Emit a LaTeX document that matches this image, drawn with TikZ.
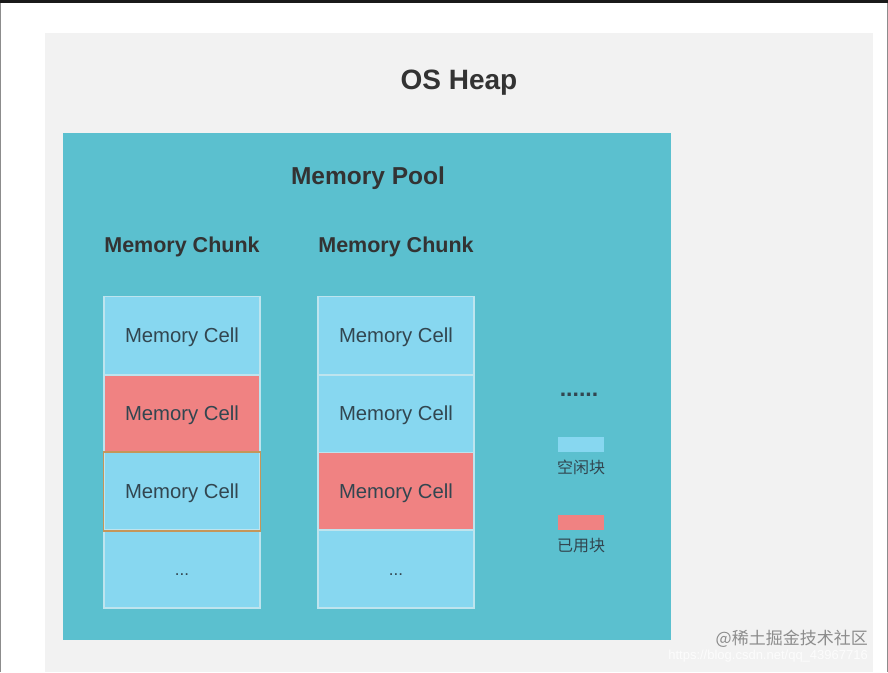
\documentclass[tikz,border=0pt]{standalone}
\usepackage{fontspec}
\setmainfont{Liberation Sans}
\newfontfamily\cjk{Noto Sans CJK SC}
\definecolor{panel}{RGB}{242,242,242}
\definecolor{teal}{RGB}{91,192,207}
\definecolor{freec}{RGB}{135,215,240}
\definecolor{usedc}{RGB}{240,130,130}
\definecolor{txt}{RGB}{51,51,51}
\definecolor{celltxt}{RGB}{50,70,80}
\definecolor{cellline}{RGB}{190,228,238}
\definecolor{selline}{RGB}{196,150,90}
\tikzset{
  cell/.style={draw=cellline, line width=1.2pt, minimum width=156pt, minimum height=78pt, inner sep=0pt, text height=13pt, text depth=0pt, font=\fontsize{20.3}{22}\selectfont, text=celltxt},
  freecell/.style={cell, fill=freec},
  usedcell/.style={cell, fill=usedc},
  title/.style={font=\bfseries, text=txt, inner sep=0pt},
  lab/.style={inner sep=0pt, text=celltxt}
}
\begin{document}
\begin{tikzpicture}[x=1pt,y=-1pt]
\useasboundingbox (0,0) rectangle (888,672);
\fill[white] (0,0) rectangle (888,672);
\fill[black!90] (0,0) rectangle (888,3);
\draw[black!45, line width=0.8pt] (0.5,3) -- (0.5,672) (887.5,3) -- (887.5,672);
\fill[panel] (45,33) rectangle (873,672);
\fill[teal] (63,133) rectangle (671,640);
\node[title, font=\fontsize{28}{30}\bfseries\selectfont] (heap) at (459,83) {OS Heap};
\node[title, font=\fontsize{24.5}{26}\bfseries\selectfont] (pool) at (368,178.5) {Memory Pool};
\node[title, font=\fontsize{21.5}{24}\bfseries\selectfont] (ch1) at (182,247) {Memory Chunk};
\node[title, font=\fontsize{21.5}{24}\bfseries\selectfont] (ch2) at (396,247) {Memory Chunk};
% chunk 1
\node[freecell] (a1) at (182,335.5) {Memory Cell};
\node[usedcell] (a2) at (182,414) {Memory Cell};
\node[freecell] (a3) at (182,491.5) {Memory Cell};
\node[freecell, font=\fontsize{17}{18}\selectfont] (a4) at (182,569) {...};
\draw[selline, line width=1.3pt] (a3.north west) rectangle (a3.south east);
% chunk 2
\node[freecell] (b1) at (396,335.5) {Memory Cell};
\node[freecell] (b2) at (396,414) {Memory Cell};
\node[usedcell] (b3) at (396,491.5) {Memory Cell};
\node[freecell, font=\fontsize{17}{18}\selectfont] (b4) at (396,569) {...};
% legend
\node[lab, font=\fontsize{23}{24}\bfseries\selectfont] (dots) at (579,395) {......};
\node[fill=freec, minimum width=46pt, minimum height=15pt, inner sep=0pt] (lf) at (581,444.5) {};
\node[lab, font=\cjk\fontsize{16}{18}\selectfont] (lft) at (581,467) {空闲块};
\node[fill=usedc, minimum width=46pt, minimum height=15pt, inner sep=0pt] (lu) at (581,522.5) {};
\node[lab, font=\cjk\fontsize{16}{18}\selectfont] (lut) at (581,546) {已用块};
% watermark
\node[text=black!45, font=\cjk\fontsize{17}{19}\selectfont, inner sep=0pt, anchor=east] (wm1) at (868,639) {@稀土掘金技术社区};
\node[text=white, opacity=0.8, font=\fontsize{13}{15}\selectfont, inner sep=0pt, anchor=east] (wm2) at (868,656) {https://blog.csdn.net/qq\_43967716};
\end{tikzpicture}
\end{document}
